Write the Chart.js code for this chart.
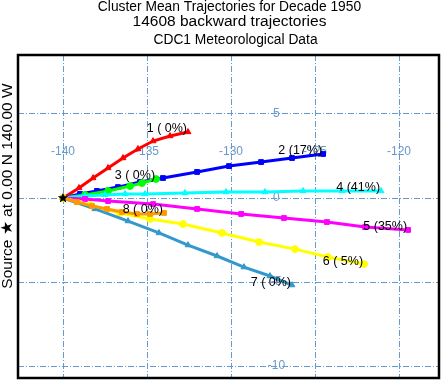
<!DOCTYPE html>
<html><head><meta charset="utf-8">
<script src="https://cdn.jsdelivr.net/npm/chart.js@4/dist/chart.umd.min.js"></script>
<style>html,body{margin:0;padding:0;background:#fff}#wrap{width:441px;height:380px}</style>
</head><body><div id="wrap"><canvas id="c" width="441" height="380"></canvas></div>
<script>
const titleLines = ["Cluster Mean Trajectories for Decade 1950", "14608 backward trajectories", "CDC1 Meteorological Data"];
const yAxisTitle = "Source \u2605 at 0.00 N 140.00 W";
const lonTicks = [-140, -135, -130, -125, -120];
const latTicks = [5, 0, -5, -10];
const sourceLon = -140, sourceLat = 0;

const clusterNames = ["1 ( 0%)", "2 (17%)", "3 ( 0%)", "4 (41%)", "5 (35%)", "6 ( 5%)", "7 ( 0%)", "8 ( 0%)"];
const clusterColors = ["#ff0000", "#0000ff", "#00ff00", "#00ffff", "#ff00ff", "#ffff00", "#3399cc", "#ff9900"];
const clusterMarkers = ["triangle", "rect", "circle", "triangle", "rect", "circle", "triangle", "rect"];

const traj1Lon = [-140, -139.05, -138.21, -137.32, -136.43, -135.54, -134.64, -133.63, -132.56];
const traj1Lat = [0, 0.60, 1.19, 1.79, 2.38, 2.92, 3.39, 3.69, 3.93];
const traj2Lon = [-140, -138.99, -137.98, -136.73, -135.42, -134.05, -132.02, -130.12, -128.21, -126.37, -124.52];
const traj2Lat = [0, 0.24, 0.42, 0.65, 0.95, 1.19, 1.55, 1.90, 2.14, 2.38, 2.62];
const traj3Lon = [-140, -138.69, -137.32, -136.01, -135.30, -134.46];
const traj3Lat = [0, 0.18, 0.42, 0.71, 0.89, 1.13];
const traj4Lon = [-140, -138.69, -137.50, -136.31, -135.12, -132.74, -130.30, -127.98, -125.71, -123.39, -121.07];
const traj4Lat = [0, 0.12, 0.18, 0.24, 0.24, 0.30, 0.36, 0.36, 0.42, 0.42, 0.42];
const traj5Lon = [-140, -138.69, -137.32, -134.64, -132.02, -129.40, -126.85, -124.29, -122.02, -119.46];
const traj5Lat = [0, -0.06, -0.18, -0.36, -0.65, -0.95, -1.19, -1.43, -1.73, -1.90];
const traj6Lon = [-140, -138.39, -136.61, -134.82, -132.86, -130.54, -128.33, -126.19, -124.23, -122.08];
const traj6Lat = [0, -0.42, -0.89, -1.25, -1.55, -2.08, -2.62, -3.04, -3.51, -3.93];
const traj7Lon = [-140, -138.10, -136.13, -134.29, -132.56, -130.83, -129.23, -127.68, -126.37];
const traj7Lat = [0, -0.65, -1.37, -2.08, -2.80, -3.45, -4.11, -4.64, -5.18];
const traj8Lon = [-140, -139.17, -138.27, -137.38, -136.49, -135.60, -134.82, -133.99];
const traj8Lat = [0, -0.24, -0.48, -0.65, -0.83, -0.95, -0.95, -0.89];

const allLon = [traj1Lon, traj2Lon, traj3Lon, traj4Lon, traj5Lon, traj6Lon, traj7Lon, traj8Lon];
const allLat = [traj1Lat, traj2Lat, traj3Lat, traj4Lat, traj5Lat, traj6Lat, traj7Lat, traj8Lat];

const datasets = allLon.map((lons, i) => ({
  label: clusterNames[i],
  data: lons.map((x, j) => ({x: x, y: allLat[i][j]})),
  showLine: true,
  borderColor: clusterColors[i],
  backgroundColor: clusterColors[i],
  borderWidth: 3,
  pointStyle: clusterMarkers[i],
  pointRadius: 3.4,
  pointBorderWidth: 1,
  tension: 0,
  fill: false,
  order: allLon.length - i
}));

const GRID = "#6699cc";
const FONT = "'Liberation Sans', Arial, Helvetica, sans-serif";

const decorPlugin = {
  id: 'decor',
  beforeDatasetsDraw(chart) {
    const ctx = chart.ctx, xs = chart.scales.x, ys = chart.scales.y;
    ctx.save();
    ctx.fillStyle = GRID;
    ctx.font = "12px " + FONT;
    ctx.textAlign = 'center';
    ctx.textBaseline = 'middle';
    const lonLabelLat = 2.74, latLabelLon = -127.3;
    lonTicks.forEach(v => ctx.fillText(String(v), xs.getPixelForValue(v), ys.getPixelForValue(lonLabelLat)));
    latTicks.forEach(v => ctx.fillText(String(v), xs.getPixelForValue(latLabelLon), ys.getPixelForValue(v)));
    ctx.restore();
  },
  afterDatasetsDraw(chart) {
    const ctx = chart.ctx, xs = chart.scales.x, ys = chart.scales.y;
    ctx.save();
    const sx = xs.getPixelForValue(sourceLon), sy = ys.getPixelForValue(sourceLat);
    ctx.fillStyle = '#000';
    ctx.beginPath();
    for (let k = 0; k < 10; k++) {
      const r = k % 2 === 0 ? 5.5 : 2.3;
      const a = -Math.PI / 2 + k * Math.PI / 5;
      const px = sx + r * Math.cos(a), py = sy + r * Math.sin(a);
      if (k === 0) ctx.moveTo(px, py); else ctx.lineTo(px, py);
    }
    ctx.closePath();
    ctx.fill();
    ctx.font = "12.5px " + FONT;
    ctx.textAlign = 'right';
    ctx.textBaseline = 'middle';
    ctx.fillStyle = '#000';
    allLon.forEach((lons, i) => {
      const n = lons.length - 1;
      const px = xs.getPixelForValue(lons[n]) - 1;
      const py = ys.getPixelForValue(allLat[i][n]) - 3;
      ctx.fillText(clusterNames[i], px, py);
    });
    ctx.restore();
  },
  afterDraw(chart) {
    const ctx = chart.ctx, a = chart.chartArea;
    ctx.save();
    ctx.strokeStyle = '#000';
    ctx.lineWidth = 2.5;
    ctx.strokeRect(a.left, a.top, a.right - a.left, a.bottom - a.top);
    ctx.fillStyle = '#000';
    ctx.textAlign = 'center';
    ctx.textBaseline = 'middle';
    const cx = (a.left + a.right) / 2;
    ctx.font = "13.8px " + FONT;
    ctx.fillText(titleLines[0], cx + 1, 7);
    ctx.font = "15.5px " + FONT;
    ctx.fillText(titleLines[1], cx + 1, 22);
    ctx.font = "13.8px " + FONT;
    ctx.fillText(titleLines[2], cx + 7, 40);
    ctx.translate(8, 186);
    ctx.rotate(-Math.PI / 2);
    ctx.font = "15.5px " + FONT;
    ctx.fillText(yAxisTitle, 0, 0);
    ctx.restore();
  }
};

new Chart(document.getElementById('c'), {
  type: 'scatter',
  data: { datasets: datasets },
  options: {
    responsive: false,
    animation: false,
    devicePixelRatio: 1,
    layout: { autoPadding: false, padding: { left: 18, top: 55, right: 2, bottom: 2 } },
    plugins: { legend: { display: false }, tooltip: { enabled: false }, title: { display: false } },
    scales: {
      x: {
        type: 'linear', min: -142.68, max: -117.62,
        ticks: { display: false },
        grid: { color: GRID, lineWidth: 1, drawTicks: false },
        border: { display: false, dash: [6, 2, 1, 2] },
        afterBuildTicks: s => { s.ticks = lonTicks.map(v => ({ value: v })); }
      },
      y: {
        type: 'linear', min: -10.71, max: 8.51,
        ticks: { display: false },
        grid: { color: GRID, lineWidth: 1, drawTicks: false },
        border: { display: false, dash: [6, 2, 1, 2] },
        afterBuildTicks: s => { s.ticks = latTicks.map(v => ({ value: v })); }
      }
    }
  },
  plugins: [decorPlugin]
});
</script>
</body></html>
